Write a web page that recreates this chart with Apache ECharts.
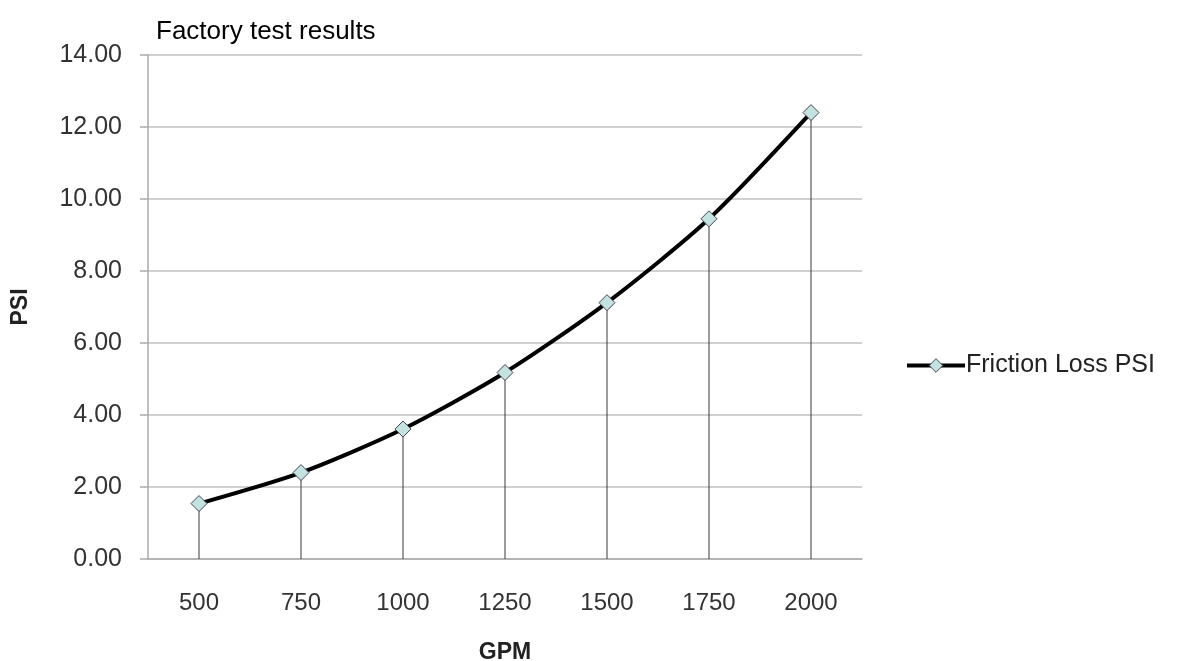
<!DOCTYPE html>
<html><head><meta charset="utf-8">
<script src="https://cdn.jsdelivr.net/npm/echarts@6/dist/echarts.min.js"></script>
<style>html,body{margin:0;padding:0;background:#fff}#c{width:1177px;height:661px}</style>
</head><body><div id="c"></div>
<script>
var categories = ['500','750','1000','1250','1500','1750','2000'];
var frictionLoss = [1.54, 2.40, 3.61, 5.18, 7.12, 9.45, 12.40];
var yTicks = {min: 0, max: 14, interval: 2};

var F = 'Liberation Sans, Arial, sans-serif';
var chart = echarts.init(document.getElementById('c'));
chart.setOption({
  animation: false,
  title: {text: 'Factory test results', left: 151, top: 14,
    textStyle: {fontFamily: F, fontSize: 26, fontWeight: 'normal', color: '#000'}},
  grid: {left: 148, right: 315, top: 55, bottom: 102, containLabel: false, outerBoundsMode: 'none'},
  legend: {data: ['Friction Loss PSI'], left: 900, top: 348, itemWidth: 58, itemHeight: 17, itemGap: 4,
    itemStyle: {color: '#c4e2e0', borderColor: '#445', borderWidth: 1},
    lineStyle: {color: '#000', width: 4},
    textStyle: {fontFamily: F, fontSize: 25, color: '#222', padding: [0,0,0,-4]}},
  xAxis: {type: 'category', data: categories, boundaryGap: true,
    name: 'GPM', nameLocation: 'middle', nameGap: 82,
    nameTextStyle: {fontFamily: F, fontSize: 23, fontWeight: 'bold', color: '#222'},
    axisLine: {lineStyle: {color: '#aaa', width: 1.5}},
    axisTick: {show: false},
    axisLabel: {margin: 32, fontFamily: F, fontSize: 24, color: '#333'}},
  yAxis: {type: 'value', min: yTicks.min, max: yTicks.max, interval: yTicks.interval,
    name: 'PSI', nameLocation: 'middle', nameGap: 116, nameRotate: 90,
    nameTextStyle: {fontFamily: F, fontSize: 23, fontWeight: 'bold', color: '#222'},
    axisLine: {show: true, lineStyle: {color: '#aaa', width: 1.5}},
    axisTick: {show: true, length: 8, lineStyle: {color: '#aaa', width: 1.5}},
    splitLine: {lineStyle: {color: '#c0c0c0', width: 1.5}},
    axisLabel: {margin: 26, fontFamily: F, fontSize: 25, color: '#333',
      formatter: function(v){return v.toFixed(2);}}},
  series: [
    {type: 'bar', name: 'drop', data: frictionLoss, barWidth: 1, barGap: '-100%', z: 1,
      itemStyle: {color: '#3a3a3a'}, silent: true},
    {type: 'line', name: 'Friction Loss PSI', data: frictionLoss, smooth: 0.25, z: 3,
      symbol: 'diamond', symbolSize: 16,
      lineStyle: {color: '#000', width: 4},
      itemStyle: {color: '#c4e2e0', borderColor: '#445', borderWidth: 1}}
  ]
});
</script></body></html>
